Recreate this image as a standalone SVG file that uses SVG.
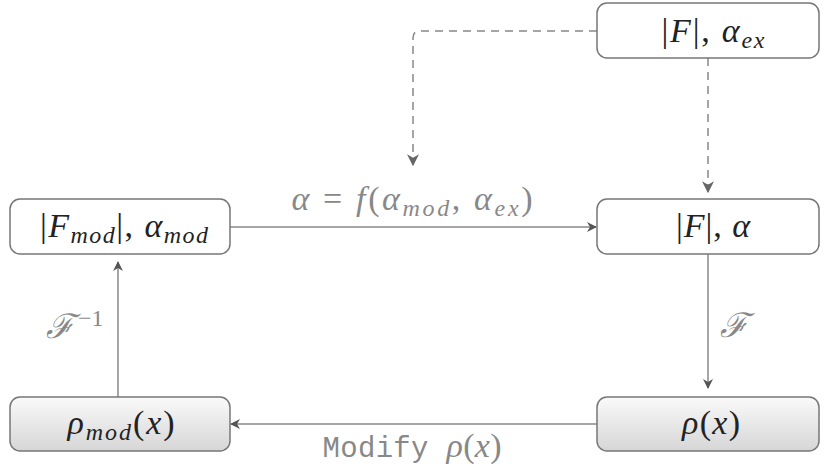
<svg xmlns="http://www.w3.org/2000/svg" width="824" height="468" viewBox="0 0 824 468">
<defs>
<linearGradient id="g" x1="0" y1="0" x2="0" y2="1">
<stop offset="0" stop-color="#fafafa"/>
<stop offset="1" stop-color="#d6d6d6"/>
</linearGradient>
<marker id="ah" viewBox="0 0 10 10" refX="9" refY="5" markerWidth="10" markerHeight="10" markerUnits="userSpaceOnUse" orient="auto">
<path d="M0,0 L10,5 L0,10 L3,5 Z" fill="#555"/>
</marker>
<marker id="ahd" viewBox="0 0 10 10" refX="9" refY="5" markerWidth="12" markerHeight="12" markerUnits="userSpaceOnUse" orient="auto">
<path d="M0,0 L10,5 L0,10 L3,5 Z" fill="#666"/>
</marker>
</defs>
<style>
.box{fill:#fff;stroke:#777;stroke-width:1.5}
.gbox{fill:url(#g);stroke:#777;stroke-width:1.5}
.m{font-family:'Liberation Serif','DejaVu Serif',serif;font-style:italic;font-size:34px;fill:#222}
.u{font-style:normal}
.s{font-size:24px}
.lab{font-family:'Liberation Serif','DejaVu Serif',serif;font-style:italic;font-size:34px;fill:#888}
.mono{font-family:'Liberation Mono','DejaVu Sans Mono',monospace;font-style:normal;font-size:29px;fill:#888}
.c{fill:none;stroke:#888;stroke-width:1.5}
.d{fill:none;stroke:#888;stroke-width:1.5;stroke-dasharray:8,6}
</style>
<g id="connectors">
<path class="d" d="M597,31 H420 Q413,31 413,38 V165" marker-end="url(#ahd)"/>
<path class="d" d="M708,58 V192" marker-end="url(#ahd)"/>
<path class="c" d="M230,227 H596" marker-end="url(#ah)"/>
<path class="c" d="M708,254 V388" marker-end="url(#ah)"/>
<path class="c" d="M597,424 H231" marker-end="url(#ah)"/>
<path class="c" d="M118,397 V262" marker-end="url(#ah)"/>
<text class="lab" x="412" y="210" text-anchor="middle" textLength="241" lengthAdjust="spacing">α <tspan class="u">=</tspan> f<tspan class="u">(</tspan>α<tspan class="s" dy="6">mod</tspan><tspan dy="-6" class="u">, </tspan>α<tspan class="s" dy="6">ex</tspan><tspan dy="-6" class="u">)</tspan></text>
<text class="lab" x="720" y="337">ℱ</text>
<text class="lab" x="46" y="338">ℱ<tspan class="u s" dx="4" dy="-12">−1</tspan></text>
<text x="412" y="457" text-anchor="middle" textLength="179" lengthAdjust="spacing"><tspan class="mono">Modify </tspan><tspan class="lab">ρ<tspan class="u">(</tspan>x<tspan class="u">)</tspan></tspan></text>
</g>
<g id="node-F-alpha-ex">
<rect class="box" x="597" y="3" width="222" height="55" rx="10"/>
<text class="m" x="713" y="42" text-anchor="middle" textLength="103" lengthAdjust="spacing"><tspan class="u">|</tspan>F<tspan class="u">|, </tspan>α<tspan class="s" dy="6">ex</tspan></text>
</g>
<g id="node-Fmod-alphamod">
<rect class="box" x="10" y="199" width="220" height="55" rx="10"/>
<text class="m" x="124" y="237" text-anchor="middle" textLength="168" lengthAdjust="spacing"><tspan class="u">|</tspan>F<tspan class="s" dy="6">mod</tspan><tspan class="u" dy="-6">|, </tspan>α<tspan class="s" dy="6">mod</tspan></text>
</g>
<g id="node-F-alpha">
<rect class="box" x="597" y="199" width="222" height="55" rx="10"/>
<text class="m" x="713" y="237" text-anchor="middle" textLength="74" lengthAdjust="spacing"><tspan class="u">|</tspan>F<tspan class="u">|, </tspan>α</text>
</g>
<g id="node-rhomod">
<rect class="gbox" x="10" y="397" width="220" height="54" rx="10"/>
<text class="m" x="121" y="434" text-anchor="middle" textLength="107" lengthAdjust="spacing">ρ<tspan class="s" dy="6">mod</tspan><tspan class="u" dy="-6">(</tspan>x<tspan class="u">)</tspan></text>
</g>
<g id="node-rho">
<rect class="gbox" x="597" y="397" width="222" height="54" rx="10"/>
<text class="m" x="711" y="434" text-anchor="middle" textLength="58" lengthAdjust="spacing">ρ<tspan class="u">(</tspan>x<tspan class="u">)</tspan></text>
</g>
</svg>
